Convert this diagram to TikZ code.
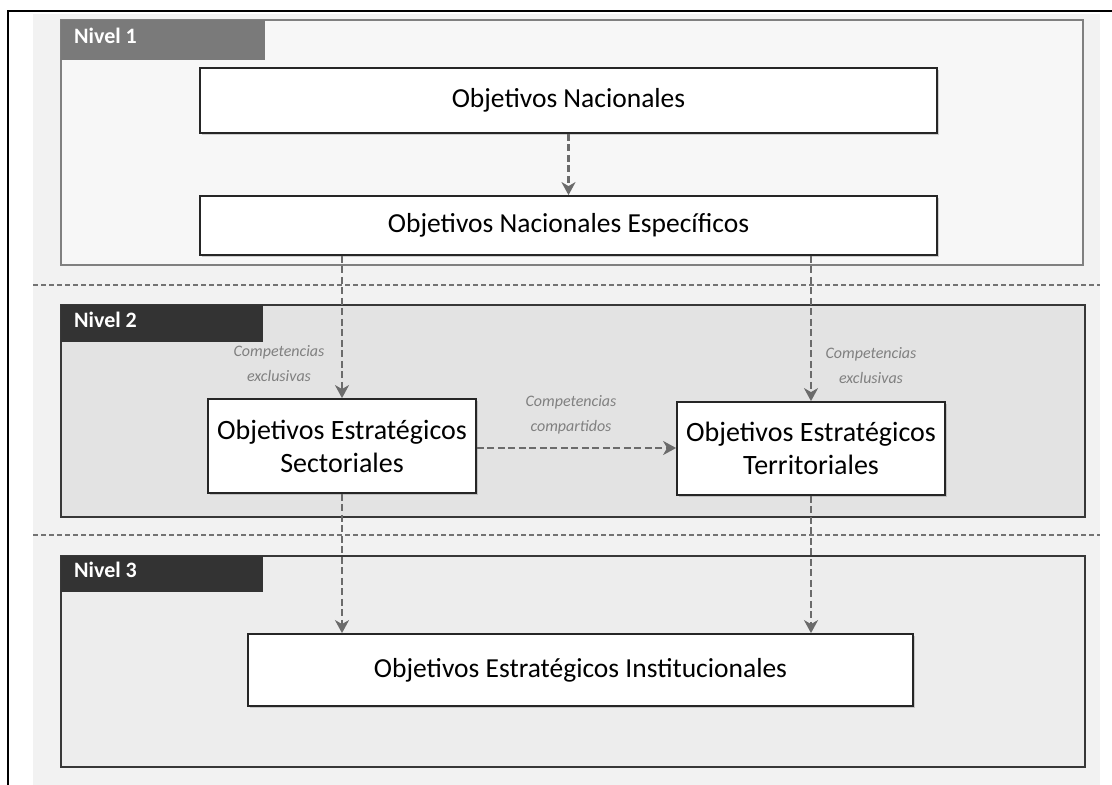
\documentclass[tikz,border=0pt]{standalone}
\usepackage{fontspec}
\setmainfont{Carlito}
\usetikzlibrary{arrows.meta,shadows}
\begin{document}
\begin{tikzpicture}[x=1pt,y=-1pt,
  level/.style={draw=#1, line width=1.8pt},
  tab/.style={text=white, font=\fontsize{22}{26}\selectfont\bfseries, anchor=north west, inner sep=0pt, align=left},
  objbox/.style={draw=black!85, line width=1.8pt, fill=white, inner sep=0pt, align=center, drop shadow={opacity=0.35, shadow xshift=1.5pt, shadow yshift=-1.5pt}},
  flow/.style={draw=black!58, line width=2.8pt, dash pattern=on 7pt off 3.5pt, -{Stealth[length=13pt,width=14pt,inset=4pt]}},
  comp/.style={text=black!50, font=\fontsize{16}{25}\selectfont\itshape, align=center, inner sep=0pt},
  sep/.style={draw=black!55, line width=1.4pt, dash pattern=on 5pt off 3pt}
]
\useasboundingbox (0,0) rectangle (1112,785);
\fill[white] (0,0) rectangle (1112,785);
% background
\fill[black!5] (33,14) rectangle (1100,785);
% outer frame
\draw[line width=2pt] (1112,11) -- (8,11) -- (8,785);

% level 1
\fill[black!3] (61,20) rectangle (1083,265);
\draw[level=black!50] (61,20) rectangle (1083,265);
\fill[black!52] (61,20) rectangle (265,60);
\node[tab] (n1) at (74,28) {Nivel 1};

% separators
\draw[sep] (33,285) -- (1100,285);
\draw[sep] (33,535) -- (1100,535);

% level 2
\fill[black!11] (61,305) rectangle (1085,517);
\draw[level=black!78] (61,305) rectangle (1085,517);
\fill[black!80] (61,305) rectangle (263,342);
\node[tab] (n2) at (74,312) {Nivel 2};

% level 3
\fill[black!7] (61,556) rectangle (1085,767);
\draw[level=black!78] (61,556) rectangle (1085,767);
\fill[black!80] (61,556) rectangle (263,592);
\node[tab] (n3) at (74,562) {Nivel 3};

% object boxes
\node[objbox, minimum width=737pt, minimum height=65pt, font=\fontsize{27.5}{32}\selectfont] (on) at (568.5,100.5) {Objetivos Nacionales};
\node[objbox, minimum width=737pt, minimum height=59pt, font=\fontsize{27.5}{32}\selectfont] (one) at (568.5,225.5) {Objetivos Nacionales Específicos};
\node[objbox, minimum width=268pt, minimum height=94pt, font=\fontsize{28}{33}\selectfont] (oes) at (342,446) {Objetivos Estratégicos\\Sectoriales};
\node[objbox, minimum width=268pt, minimum height=93pt, font=\fontsize{28}{33}\selectfont] (oet) at (811,448.5) {Objetivos Estratégicos\\Territoriales};
\node[objbox, minimum width=665pt, minimum height=72pt, font=\fontsize{27.5}{32}\selectfont] (oei) at (580.5,670) {Objetivos Estratégicos Institucionales};

% arrows
\draw[flow] (on.south) -- (one.north);
\draw[flow] (one.south -| oes.north) -- (oes.north);
\draw[flow] (one.south -| oet.north) -- (oet.north);
\draw[flow] (oes.south) -- (oes.south |- oei.north);
\draw[flow] (oet.south) -- (oet.south |- oei.north);
\draw[flow] (oes.east |- 0,448) -- (oet.west |- 0,448);

% labels
\node[comp] (c1) at (279,364) {Competencias\\exclusivas};
\node[comp] (c2) at (871,366) {Competencias\\exclusivas};
\node[comp] (c3) at (571,415) {Competencias\\compartidos};
\end{tikzpicture}
\end{document}
